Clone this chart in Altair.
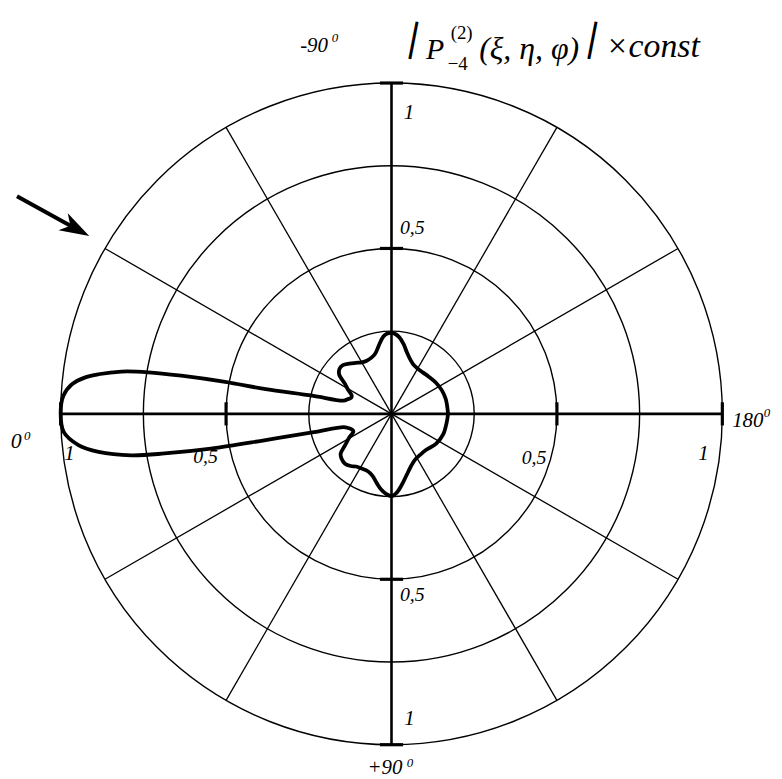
import altair as alt
import pandas as pd

# ---------------- data ----------------
# Pattern |P(2)-4(xi,eta,phi)| x const, radius vs. angle (degrees).
# 0 deg = left, -90 deg = top, +90 deg = bottom, 180 deg = right.
UPPER_ANGLE = [0, 3.2, 5.3, 6.8, 7.7, 8.9, 9.7, 10.3, 10.9, 11.1, 12.9, 15.4, 18.4, 22, 25, 29,
               33, 37, 41, 45, 50, 55, 60, 65, 70, 75, 80, 84, 87, 90, 93, 96, 100, 104, 109,
               114, 120, 127, 135, 145, 155, 165, 180]
UPPER_R = [1.000, 0.993, 0.970, 0.932, 0.894, 0.826, 0.746, 0.646, 0.512, 0.392, 0.246, 0.150,
           0.140, 0.131, 0.133, 0.150, 0.168, 0.198, 0.208, 0.208, 0.198, 0.188, 0.180, 0.177,
           0.180, 0.189, 0.213, 0.235, 0.243, 0.245, 0.241, 0.232, 0.213, 0.192, 0.174, 0.163,
           0.158, 0.157, 0.159, 0.164, 0.168, 0.170, 0.171]
LOWER_ANGLE = [0, 3.2, 5.7, 7.4, 9.05, 9.9, 10.9, 11.75, 13.2, 15.4, 18, 22, 25, 29, 34, 38, 42,
               47, 52, 56, 62, 68, 73, 78, 82, 86, 90, 94, 98, 104, 110, 117, 125, 134, 146,
               158, 172, 180]
LOWER_R = [1.000, 0.992, 0.951, 0.893, 0.796, 0.696, 0.556, 0.393, 0.241, 0.150, 0.138, 0.128,
           0.127, 0.145, 0.169, 0.195, 0.203, 0.206, 0.200, 0.192, 0.188, 0.188, 0.196, 0.214,
           0.230, 0.242, 0.249, 0.238, 0.218, 0.190, 0.170, 0.156, 0.151, 0.151, 0.162, 0.168,
           0.169, 0.171]

RING_R = [0.25, 0.5, 0.75, 1.0]
SPOKE_ANGLE = [30, 60, 120, 150, 210, 240, 300, 330]
AXIS_ANGLE = [0, 90, 180, 270]
TICK_R = [0.5, 1.0]

# ---------------- tables built from the arrays ----------------
angles = [-a for a in reversed(UPPER_ANGLE)] + LOWER_ANGLE[1:]
radii = list(reversed(UPPER_R)) + LOWER_R[1:]
curve = pd.DataFrame({"angle": angles, "r": radii, "order": list(range(len(angles)))})
rings = pd.DataFrame({"r": RING_R})
spokes = pd.DataFrame({"angle": SPOKE_ANGLE})
axes_df = pd.DataFrame({"angle": AXIS_ANGLE})
ticks = pd.DataFrame([{"angle": a, "r": r} for a in AXIS_ANGLE for r in TICK_R])
one = pd.DataFrame({"k": [0]})

FONT = "Liberation Serif"
XS = alt.Scale(domain=[-1, 1], nice=False, zero=False)
YS = alt.Scale(domain=[-1, 1], nice=False, zero=False)


def X(field):
    return alt.X(field, scale=XS, axis=None)


def Y(field):
    return alt.Y(field, scale=YS, axis=None)


def XD(v):
    return alt.XDatum(v, scale=XS, axis=None, type="quantitative")


def YD(v):
    return alt.YDatum(v, scale=YS, axis=None, type="quantitative")


def label(text, x, y, size, style="italic", weight="normal", angle=0, baseline="alphabetic"):
    return alt.Chart(one).mark_text(
        text=text, font=FONT, fontSize=size, fontStyle=style, fontWeight=weight,
        align="center", baseline=baseline, color="black", angle=angle
    ).encode(x=XD(x), y=YD(y))


ring_layer = alt.Chart(rings).mark_point(
    shape="circle", filled=False, stroke="black", strokeWidth=1.4, opacity=1
).encode(
    x=XD(0), y=YD(0),
    size=alt.Size("r:Q", scale=alt.Scale(type="pow", exponent=2, domain=[0, 1],
                                         range=[0, 666 ** 2]), legend=None),
)

spoke_layer = alt.Chart(spokes).transform_calculate(
    x0="0", y0="0",
    x1="-cos(datum.angle*PI/180)", y1="-sin(datum.angle*PI/180)",
).mark_rule(color="black", strokeWidth=1.3).encode(
    x=X("x0:Q"), y=Y("y0:Q"), x2="x1:Q", y2="y1:Q"
)

axis_layer = alt.Chart(axes_df).transform_calculate(
    x0="0", y0="0",
    x1="-cos(datum.angle*PI/180)", y1="-sin(datum.angle*PI/180)",
).mark_rule(color="black", strokeWidth=2.6).encode(
    x=X("x0:Q"), y=Y("y0:Q"), x2="x1:Q", y2="y1:Q"
)

tick_layer = alt.Chart(ticks).transform_calculate(
    cx="-datum.r*cos(datum.angle*PI/180)", cy="-datum.r*sin(datum.angle*PI/180)",
).transform_calculate(
    tx1="datum.cx + 0.035*sin(datum.angle*PI/180)",
    ty1="datum.cy - 0.035*cos(datum.angle*PI/180)",
    tx2="datum.cx - 0.035*sin(datum.angle*PI/180)",
    ty2="datum.cy + 0.035*cos(datum.angle*PI/180)",
).mark_rule(color="black", strokeWidth=3.2).encode(
    x=X("tx1:Q"), y=Y("ty1:Q"), x2="tx2:Q", y2="ty2:Q"
)

curve_layer = alt.Chart(curve).transform_calculate(
    px="-datum.r*cos(datum.angle*PI/180)", py="-datum.r*sin(datum.angle*PI/180)",
).mark_line(color="black", strokeWidth=3.8, interpolate="catmull-rom").encode(
    x=X("px:Q"), y=Y("py:Q"), order="order:Q"
)

# arrow pointing at the pattern
arrow_shaft = alt.Chart(one).mark_rule(color="black", strokeWidth=4).encode(
    x=XD(-1.132), y=YD(0.658), x2=alt.X2Datum(-0.958), y2=alt.Y2Datum(0.562)
)
arrow_head = alt.Chart(one).mark_point(
    shape="M0,-1 L0.65,1 L0,0.45 L-0.65,1 Z", filled=True, color="black",
    opacity=1, size=900, angle=118.7
).encode(x=XD(-0.953), y=YD(0.559))

labels = [
    # direction labels
    label("-90", -0.234, 1.093, 21), label("0", -0.171, 1.123, 13),
    label("0", -1.134, -0.102, 22), label("0", -1.101, -0.078, 13),
    label("180", 1.077, -0.039, 21), label("0", 1.135, -0.009, 13),
    label("+90", -0.020, -1.088, 21), label("0", 0.056, -1.067, 13),
    # radius labels
    label("1", 0.053, 0.892, 21), label("0,5", 0.063, 0.544, 20),
    label("0,5", 0.063, -0.565, 20), label("1", 0.054, -0.940, 21),
    label("1", -0.973, -0.138, 21), label("0,5", -0.562, -0.147, 20),
    label("0,5", 0.431, -0.153, 20), label("1", 0.943, -0.138, 21),
    # title  /P(2)-4(xi, eta, phi)/ x const
    label("|", 0.068, 1.138, 42, style="normal", weight="bold", angle=11, baseline="middle"),
    label("P", 0.132, 1.072, 30),
    label("(2)", 0.212, 1.134, 19, style="normal"),
    label("\u22124", 0.200, 1.039, 19, style="normal"),
    label("(\u03be, \u03b7, \u03c6)", 0.416, 1.072, 32),
    label("|", 0.609, 1.138, 42, style="normal", weight="bold", angle=11, baseline="middle"),
    label("\u00d7const", 0.790, 1.078, 34),
]

chart = alt.layer(
    ring_layer, spoke_layer, axis_layer, tick_layer, curve_layer,
    arrow_shaft, arrow_head, *labels
).properties(
    width=666, height=666,
    padding={"left": 53, "top": 73, "right": 52, "bottom": 32},
    autosize=alt.AutoSizeParams(type="none"),
).configure_view(stroke=None)

chart.save("out.html", embed_options={"renderer": "svg", "actions": False})
